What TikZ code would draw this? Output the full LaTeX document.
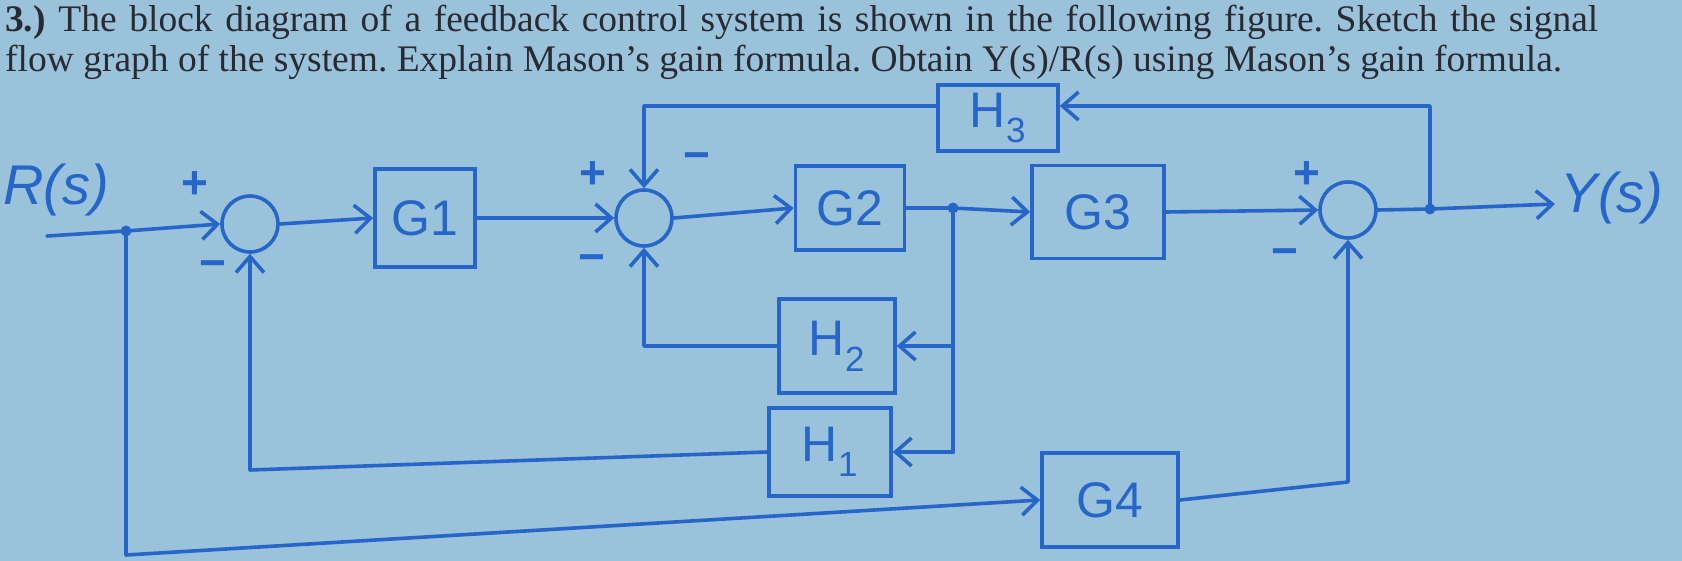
\documentclass[tikz,border=0pt]{standalone}
\usepackage{fontspec}
\setmainfont{Liberation Serif}
\newfontfamily\handfont{Liberation Sans}
\usetikzlibrary{arrows.meta}
\definecolor{bgblue}{RGB}{155,194,219}
\definecolor{pen}{RGB}{38,102,200}
\definecolor{ink}{RGB}{40,42,52}
\frenchspacing
\begin{document}
\begin{tikzpicture}[x=1pt,y=-1pt,
  wire/.style={draw=pen,line width=3.6pt,line cap=round,line join=round},
  arr/.style={wire,-{Straight Barb[length=16pt,width=28pt]}},
  blk/.style={draw=pen,line width=3.6pt,inner sep=0pt,text=pen,font=\handfont\fontsize{50}{50}\selectfont},
  sumc/.style={circle,draw=pen,line width=3.6pt,minimum size=56pt,inner sep=0pt},
  sgn/.style={text=pen,inner sep=0pt,font=\handfont\bfseries\fontsize{46}{46}\selectfont},
  lbl/.style={text=pen,inner sep=0pt,font=\handfont\itshape\fontsize{56}{56}\selectfont},
  jdot/.style={circle,fill=pen,minimum size=11pt,inner sep=0pt},
  ttl/.style={anchor=base west,inner sep=0pt,text=ink,font=\fontsize{37.5}{40}\selectfont}]
\fill[bgblue] (0,0) rectangle (1682,561);
\useasboundingbox (0,0) rectangle (1682,561);
% title
\node[ttl] (t1) at (5,32) {\makebox[1593pt][s]{\textbf{3.)} The block diagram of a feedback control system is shown in the following figure. Sketch the signal}};
\node[ttl] (t2) at (5,72) {flow graph of the system. Explain Mason’s gain formula. Obtain Y(s)/R(s) using Mason’s gain formula.};
% labels
\node[lbl] (R) at (56,190) {R(s)};
\node[lbl] (Y) at (1612,198) {Y(s)};
% summing junctions
\node[sumc] (s1) at (250,224) {};
\node[sumc] (s2) at (644,218) {};
\node[sumc] (s3) at (1348,210) {};
% blocks
\node[blk,minimum width=100pt,minimum height=98pt] (G1) at (425,218) {G1};
\node[blk,minimum width=109pt,minimum height=84pt] (G2) at (850,208) {G2};
\node[blk,minimum width=132pt,minimum height=93pt] (G3) at (1098,212) {G3};
\node[blk,minimum width=120pt,minimum height=66pt] (H3) at (998,118) {H\textsubscript{3}};
\node[blk,minimum width=116pt,minimum height=94pt] (H2) at (837,346) {H\textsubscript{2}};
\node[blk,minimum width=122pt,minimum height=88pt] (H1) at (830,452) {H\textsubscript{1}};
\node[blk,minimum width=136pt,minimum height=94pt] (G4) at (1110,500) {G4};
% signs
\node[sgn] (p1) at (195,185) {+};
\node[sgn] (m1) at (213,270) {−};
\node[sgn] (p2) at (593,175) {+};
\node[sgn] (m2) at (592,264) {−};
\node[sgn] (m2t) at (697,162) {−};
\node[sgn] (p3) at (1307,175) {+};
\node[sgn] (m3) at (1285,258) {−};
% junction dots
\node[jdot] (J0) at (126,231) {};
\node[jdot] (J2) at (953,208) {};
\node[jdot] (J3) at (1430,209) {};
\coordinate (rin) at (47,236);
\coordinate (yout) at (1555,204);
\coordinate (j2b) at (953,452);
% forward path
\draw[wire] (rin) -- (J0.center);
\draw[arr] (J0.center) -- (s1.west);
\draw[arr] (s1.east) -- (G1.west);
\draw[arr] (G1.east) -- (s2.west);
\draw[arr] (s2.east) -- (G2.west);
\draw[wire] (G2.east) -- (J2.center);
\draw[arr] (J2.center) -- (G3.west);
\draw[arr] (G3.east) -- (s3.west);
\draw[wire] (s3.east) -- (J3.center);
\draw[arr] (J3.center) -- (yout);
% H3 loop
\draw[arr] (J3.center) |- ([yshift=12pt]H3.east);
\draw[arr] ([yshift=12pt]H3.west) -| (s2.north);
% H2 / H1 loops
\draw[wire] (J2.center) -- (j2b);
\draw[arr] (J2 |- H2.east) -- (H2.east);
\draw[arr] (j2b) -- (H1.east);
\draw[arr] (H2.west) -| (s2.south);
\draw[arr] (H1.west) -- (s1.south |- 0,470) -- (s1.south);
% G4 feed-forward
\draw[arr] (J0.center) -- (J0 |- 0,555) -- (G4.west);
\draw[arr] (G4.east) -- (s3.south |- 0,482) -- (s3.south);
\end{tikzpicture}
\end{document}
